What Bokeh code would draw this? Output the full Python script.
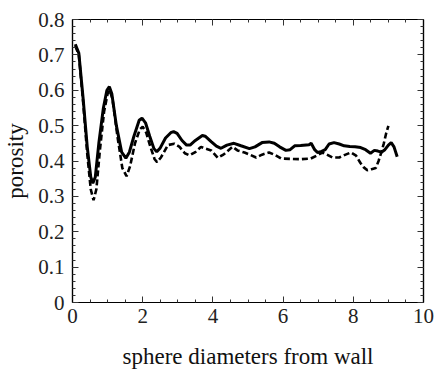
from bokeh.plotting import figure
from bokeh.models import LinearAxis, Range1d, FixedTicker
from bokeh.embed import file_html
from bokeh.resources import INLINE

# solid curve
solid_x = [0.08, 0.18, 0.3, 0.42, 0.52, 0.58, 0.65, 0.75, 0.88, 0.98, 1.05, 1.12, 1.25, 1.4, 1.52,
           1.62, 1.75, 1.9, 1.98, 2.08, 2.2, 2.32, 2.4, 2.5, 2.65, 2.8, 2.88, 2.98, 3.12, 3.25,
           3.35, 3.5, 3.7, 3.78, 3.95, 4.1, 4.23, 4.4, 4.6, 4.8, 5.04, 5.2, 5.4, 5.6, 5.75,
           5.9, 6.08, 6.2, 6.33, 6.5, 6.74, 6.8, 6.9, 6.98, 7.1, 7.2, 7.31, 7.45, 7.6, 7.74,
           7.9, 8.05, 8.21, 8.35, 8.49, 8.6, 8.7, 8.8, 8.9, 9.0, 9.08, 9.16, 9.25]
solid_y = [0.73, 0.705, 0.58, 0.44, 0.355, 0.337, 0.355, 0.45, 0.55, 0.60, 0.61, 0.59, 0.50, 0.425, 0.408,
           0.425, 0.47, 0.515, 0.521, 0.508, 0.47, 0.435, 0.426, 0.437, 0.465, 0.48, 0.483, 0.478, 0.458, 0.445,
           0.445, 0.458, 0.472, 0.47, 0.455, 0.442, 0.436, 0.445, 0.45, 0.443, 0.435, 0.44, 0.452, 0.454, 0.45,
           0.44, 0.43, 0.432, 0.443, 0.444, 0.446, 0.45, 0.432, 0.424, 0.427, 0.432, 0.448, 0.452, 0.448, 0.443,
           0.441, 0.44, 0.438, 0.432, 0.422, 0.43, 0.428, 0.425, 0.432, 0.445, 0.452, 0.44, 0.412]

# dashed curve
dash_x = [0.08, 0.18, 0.3, 0.42, 0.52, 0.6, 0.68, 0.78, 0.9, 1.0, 1.06, 1.14, 1.28, 1.42, 1.54,
          1.64, 1.78, 1.92, 2.0, 2.1, 2.22, 2.34, 2.41, 2.52, 2.72, 2.9, 3.05, 3.2, 3.33, 3.5,
          3.66, 3.76, 3.95, 4.14, 4.3, 4.56, 4.7, 4.9, 5.05, 5.23, 5.4, 5.6, 5.75, 5.94, 6.2,
          6.5, 6.79, 6.95, 7.12, 7.25, 7.4, 7.6, 7.78, 7.93, 8.08, 8.2, 8.3, 8.4, 8.52, 8.64,
          8.72, 8.8, 8.87, 8.94, 9.0]
dash_y = [0.725, 0.70, 0.57, 0.42, 0.32, 0.289, 0.32, 0.43, 0.54, 0.59, 0.60, 0.575, 0.47, 0.38, 0.357,
          0.385, 0.45, 0.49, 0.497, 0.48, 0.44, 0.405, 0.397, 0.41, 0.445, 0.449, 0.44, 0.422, 0.416, 0.425,
          0.44, 0.436, 0.43, 0.409, 0.418, 0.44, 0.43, 0.424, 0.418, 0.41, 0.418, 0.424, 0.418, 0.407, 0.406,
          0.405, 0.407, 0.415, 0.424, 0.418, 0.41, 0.41, 0.418, 0.424, 0.415, 0.395, 0.382, 0.374, 0.377, 0.38,
          0.40, 0.425, 0.45, 0.48, 0.499]

x_ticks = [0, 2, 4, 6, 8, 10]
y_ticks = [0, 0.1, 0.2, 0.3, 0.4, 0.5, 0.6, 0.7, 0.8]

FONT = "Liberation Serif"

p = figure(width=436, height=371, output_backend="svg", toolbar_location=None,
           x_range=Range1d(0, 10), y_range=Range1d(0, 0.8))
p.min_border_left = 71
p.min_border_right = 13
p.min_border_top = 19
p.min_border_bottom = 69
p.grid.visible = False
p.outline_line_color = "black"
p.outline_line_width = 1.2
p.background_fill_color = "white"
p.border_fill_color = "white"

p.line(solid_x, solid_y, line_color="black", line_width=3)
p.line(dash_x, dash_y, line_color="black", line_width=2.6, line_dash="6 3")


def style(ax, labels=True):
    ax.axis_line_color = "black"
    ax.axis_line_width = 1.2
    ax.major_tick_in = 6
    ax.major_tick_out = 0
    ax.minor_tick_in = 3
    ax.minor_tick_out = 0
    ax.major_tick_line_color = "#333333"
    ax.minor_tick_line_color = "#333333"
    if labels:
        ax.major_label_text_font = FONT
        ax.major_label_text_font_size = "21px"
        ax.major_label_text_color = "#222222"
        ax.axis_label_text_font = FONT
        ax.axis_label_text_font_style = "normal"
        ax.axis_label_text_font_size = "23px"
        ax.axis_label_text_color = "#111111"
    else:
        ax.major_label_text_font_size = "0px"
        ax.major_label_text_color = None


xt = FixedTicker(ticks=x_ticks, minor_ticks=[i * 0.5 for i in range(21)])
yt = FixedTicker(ticks=y_ticks, minor_ticks=[round(i * 0.02, 2) for i in range(41)])

p.xaxis.ticker = xt
p.yaxis.ticker = yt
p.xaxis.axis_label = "sphere diameters from wall"
p.yaxis.axis_label = "porosity"
p.xaxis.major_label_standoff = 6
p.yaxis.major_label_standoff = 8
p.xaxis.axis_label_standoff = 18
p.yaxis.axis_label_standoff = 7
p.xaxis.major_label_overrides = {0: "0", 2: "2", 4: "4", 6: "6", 8: "8", 10: "10"}
p.yaxis.major_label_overrides = {0: "0", 0.1: "0.1", 0.2: "0.2", 0.3: "0.3", 0.4: "0.4",
                                 0.5: "0.5", 0.6: "0.6", 0.7: "0.7", 0.8: "0.8"}
for ax in p.xaxis + p.yaxis:
    style(ax)

top = LinearAxis(ticker=FixedTicker(ticks=x_ticks, minor_ticks=[i * 0.5 for i in range(21)]))
right = LinearAxis(ticker=FixedTicker(ticks=y_ticks, minor_ticks=[round(i * 0.02, 2) for i in range(41)]))
style(top, labels=False)
style(right, labels=False)
top.major_label_standoff = 0
right.major_label_standoff = 0
p.add_layout(top, "above")
p.add_layout(right, "right")

open("out.html", "w").write(file_html(p, INLINE))
